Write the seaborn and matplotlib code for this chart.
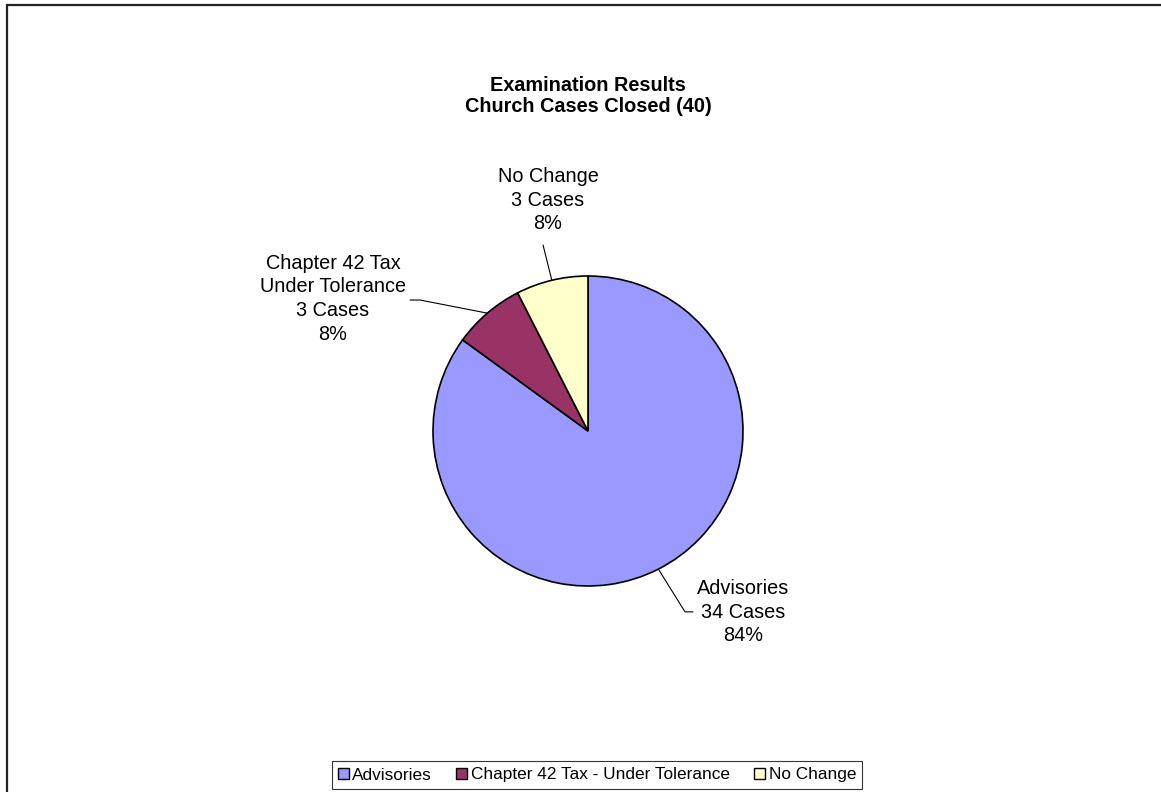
import numpy as np
import matplotlib
matplotlib.use('Agg')
import matplotlib.pyplot as plt
import matplotlib.patches as mpatches
import seaborn as sns

# data
categories = ['Advisories', 'Chapter 42 Tax - Under Tolerance', 'No Change']
cases = [34, 3, 3]
pct_labels = ['84%', '8%', '8%']
slice_labels = ['Advisories', 'Chapter 42 Tax\nUnder Tolerance', 'No Change']
colors = ['#9999FF', '#993366', '#FFFFCC']

sns.set_style('white')
plt.rcParams['font.family'] = ['Liberation Sans', 'DejaVu Sans']
plt.rcParams['text.color'] = 'black'

fig = plt.figure(figsize=(11.61, 7.92), dpi=100)

# outer border of the chart area
fig.patches.append(mpatches.Rectangle((7 / 1161, -0.2), 2, 1.2 - 5 / 792,
                                      transform=fig.transFigure, fill=False,
                                      edgecolor='#222222', linewidth=1.6))

fig.text(0.5065, 1 - 96 / 792, 'Examination Results\nChurch Cases Closed (40)',
         ha='center', va='center', fontsize=14.3, fontweight='bold',
         linespacing=1.15, color='black')

# pie axes: centre (588, 431) px, radius 155 px
r = 155
ax = fig.add_axes([(588 - r) / 1161, (792 - 431 - r) / 792, 2 * r / 1161, 2 * r / 792])
wedges, _ = ax.pie(cases, colors=colors, startangle=90, counterclock=False,
                   wedgeprops=dict(edgecolor='black', linewidth=1.2))
ax.set_xlim(-1, 1)
ax.set_ylim(-1, 1)
ax.set_aspect('equal')
ax.axis('off')

# label text positions (pie radius units) and leader-line bends
text_pos = [(1.0, -1.168), (-1.645, 0.852), (-0.258, 1.49)]
bends = [[(0.626, -1.167), (0.677, -1.167)],
         [(-1.084, 0.845), (-1.148, 0.845)],
         [(-0.29, 1.20)]]

for w, cat, n, pct, pos, bend in zip(wedges, slice_labels, cases, pct_labels, text_pos, bends):
    mid = np.deg2rad((w.theta1 + w.theta2) / 2)
    pts = [(np.cos(mid), np.sin(mid))] + bend
    xs, ys = zip(*pts)
    ax.plot(xs, ys, color='black', linewidth=0.8, clip_on=False)
    ax.text(pos[0], pos[1], f'{cat}\n{n} Cases\n{pct}', ha='center', va='center',
            fontsize=14.3, linespacing=1.33, clip_on=False, color='black')

handles = [mpatches.Patch(facecolor=c, edgecolor='black', linewidth=1) for c in colors]
leg = fig.legend(handles, categories, loc='center', bbox_to_anchor=(597 / 1161, 1 - 775 / 792),
                 ncol=3, fontsize=12.4, frameon=True, fancybox=False, handlelength=0.65,
                 handleheight=0.65, handletextpad=0.2, columnspacing=1.4,
                 borderpad=0.35, borderaxespad=0)
leg.get_frame().set_edgecolor('black')
leg.get_frame().set_linewidth(0.8)
for t in leg.get_texts():
    t.set_color('black')

fig.savefig('out.png', dpi=100, facecolor='white')
